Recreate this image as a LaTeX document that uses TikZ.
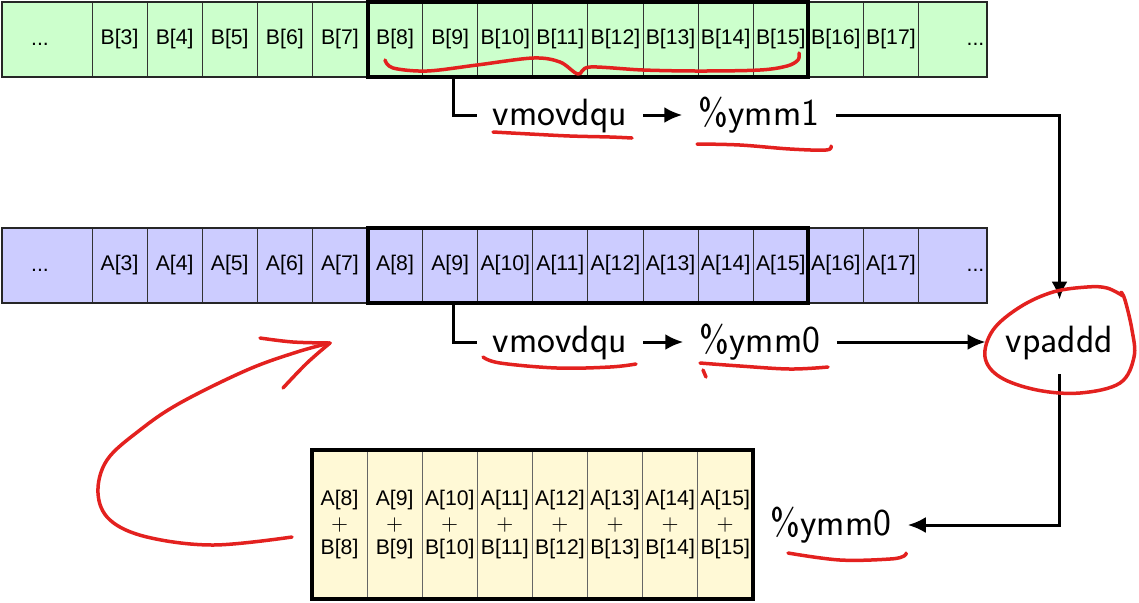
\documentclass[tikz,border=0pt]{standalone}
\usepackage{fontspec}
\newfontfamily\cellfont{Liberation Sans}
\usetikzlibrary{arrows.meta,fit}
\definecolor{memB}{HTML}{CCFFCC}
\definecolor{memA}{HTML}{CCCCFF}
\definecolor{sumbg}{HTML}{FFF9D6}
\definecolor{ink}{HTML}{E3211F}

\tikzset{
  cell/.style={draw=black!80, line width=0.5pt, minimum height=37.5pt,
    inner sep=0pt, outer sep=0pt, anchor=north west,
    font=\cellfont\fontsize{10.6}{12.25}\selectfont},
  celltext/.style={inner sep=0pt, anchor=base,
    font=\cellfont\fontsize{10.6}{12.25}\selectfont},
  sumcell/.style={draw=black!60, line width=0.5pt, minimum height=74.5pt,
    minimum width=27.55pt, inner sep=0pt, outer sep=0pt, anchor=north west,
    fill=sumbg, align=center,
    font=\cellfont\fontsize{10.6}{12.4}\selectfont},
  outline/.style={draw=black!85, line width=1pt},
  window/.style={draw=black, line width=2pt, inner sep=0pt, fit=#1},
  lbl/.style={font=\sffamily\fontsize{19}{22}\selectfont, text height=10pt,
    text depth=0pt, inner xsep=8pt, inner ysep=2pt, anchor=base},
  conn/.style={draw=black, line width=1.5pt},
  arr/.style={conn, -{Latex[length=9pt,width=8pt]}},
  ink/.style={draw=ink, line width=1.75pt, line cap=round, line join=round},
}

\begin{document}
\begin{tikzpicture}[x=0.5pt, y=-0.5pt]
\useasboundingbox (0,0) rectangle (1139,602);

% ---- array B in memory ----
\node[cell, fill=memB, minimum width=45pt] (b0) at (2,2) {};
\foreach \i in {3,...,17} {
  \pgfmathsetmacro{\xx}{92+55.1*(\i-3)}
  \node[cell, fill=memB, minimum width=27.55pt] (b\i) at (\xx,2) {B[\i]};
}
\node[cell, fill=memB, minimum width=34.25pt] (b18) at (918.5,2) {};
\node[celltext] (bdl) at (40,45) {...};
\node[celltext] (bdr) at (975.5,45) {...};
\draw[outline] (b0.north west) rectangle (b18.south east);
\node[window=(b8)(b15)] (hlB) {};

% ---- array A in memory ----
\node[cell, fill=memA, minimum width=45pt] (a0) at (2,228) {};
\foreach \i in {3,...,17} {
  \pgfmathsetmacro{\xx}{92+55.1*(\i-3)}
  \node[cell, fill=memA, minimum width=27.55pt] (a\i) at (\xx,228) {A[\i]};
}
\node[cell, fill=memA, minimum width=34.25pt] (a18) at (918.5,228) {};
\node[celltext] (adl) at (40,271) {...};
\node[celltext] (adr) at (975.5,271) {...};
\draw[outline] (a0.north west) rectangle (a18.south east);
\node[window=(a8)(a15)] (hlA) {};

% ---- sums held in the result register ----
\foreach \i in {8,...,15} {
  \pgfmathsetmacro{\xx}{312+55.1*(\i-8)}
  \node[sumcell] (s\i) at (\xx,450) {A[\i]\\$+$\\B[\i]};
}
\node[draw=black, line width=1.75pt, inner sep=0pt, fit=(s8)(s15)] (sumbox) {};

% ---- instructions and registers ----
\node[lbl] (ldB) at (560,125) {vmovdqu};
\node[lbl] (rB) at (759,125) {\%ymm1};
\node[lbl] (ldA) at (560,352) {vmovdqu};
\node[lbl] (rA) at (760,352) {\%ymm0};
\node[lbl, inner xsep=10pt, text height=15pt, inner ysep=11pt] (add) at (1059.5,352) {vpaddd};
\node[lbl] (rS) at (831,535) {\%ymm0};

% ---- data flow ----
\draw[conn] ([xshift=43.75pt]hlB.south west) |- (ldB.west);
\draw[arr] (ldB) -- (rB);
\draw[arr] (rB.east) -| (add.north);
\draw[conn] ([xshift=43.75pt]hlA.south west) |- (ldA.west);
\draw[arr] (ldA) -- (rA);
\draw[arr] (rA.east) -- (rA.east -| add.west);
\draw[arr] (add.south) |- (rS.east);

% ---- red pen marks ----
\draw[ink] plot[smooth, tension=0.55] coordinates {(385,60) (393,68) (427,71) (477,65) (533,58) (560,62) (578,74) (590,67) (643,70) (700,71) (760,70) (787,66) (798,60) (799,53)};
\draw[ink] plot[smooth, tension=0.6] coordinates {(493,132) (530,134) (570,136) (610,137) (632,138)};
\draw[ink] plot[smooth, tension=0.6] coordinates {(697,144) (740,145) (790,149) (826,150) (831,146)};
\draw[ink] plot[smooth, tension=0.6] coordinates {(483,357) (500,363) (557,368) (610,367) (636,364)};
\draw[ink] plot[smooth, tension=0.6] coordinates {(700,363) (740,366) (790,369) (828,367)};
\draw[ink] (703,370) -- (706,377);
\draw[ink] plot[smooth, tension=0.6] coordinates {(788,553) (840,560) (890,559) (904,556) (906,553)};
\draw[ink] plot[smooth, tension=0.6] coordinates {(1123,296) (1107,288) (1087,287) (1053,292) (1020,307) (993,330) (985,357) (1000,377) (1037,390) (1080,393) (1120,383) (1134,357) (1132,330) (1125,300) (1121,292)};
\draw[ink] plot[smooth, tension=0.6] coordinates {(292,537) (213,545) (147,537) (110,520) (98,493) (107,460) (140,430) (180,403) (247,370) (297,352) (330,343)};
\draw[ink] plot[smooth, tension=0.6] coordinates {(260,338) (293,342) (330,343)};
\draw[ink] plot[smooth, tension=0.6] coordinates {(330,343) (307,363) (283,388)};
\end{tikzpicture}
\end{document}
